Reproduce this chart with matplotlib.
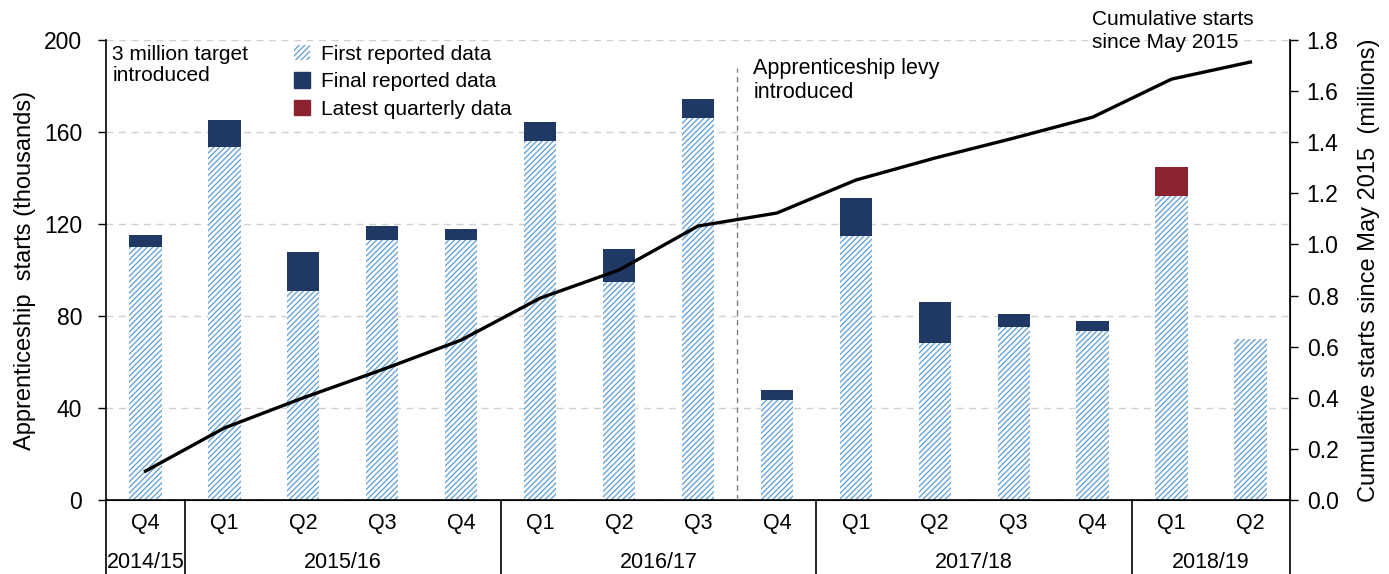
import numpy as np
import matplotlib
matplotlib.use("Agg")
import matplotlib.pyplot as plt
import matplotlib.patches as mpatches
import matplotlib.transforms as mtransforms

plt.rcParams['font.family'] = ['Liberation Sans', 'DejaVu Sans']
plt.rcParams['hatch.linewidth'] = 0.9

# data (thousands for bars, millions for the line)
quarters = ['Q4', 'Q1', 'Q2', 'Q3', 'Q4', 'Q1', 'Q2', 'Q3', 'Q4',
            'Q1', 'Q2', 'Q3', 'Q4', 'Q1', 'Q2']
years = ['2014/15', '2015/16', '2016/17', '2017/18', '2018/19']
year_sizes = [1, 4, 4, 4, 2]
first_reported = [110, 153.5, 91, 113, 113, 156, 95, 166, 43.5,
                  114.8, 68.3, 75.2, 73.5, 132.2, 70]
final_reported = [115.2, 165.2, 107.8, 119.1, 117.8, 164.3, 109.1, 174.3, 47.8,
                  131.3, 86, 80.9, 77.8, np.nan, np.nan]
latest_quarterly = [np.nan] * 13 + [144.8, np.nan]
cumulative = [0.113, 0.282, 0.40, 0.51, 0.626, 0.79, 0.90, 1.072, 1.123,
              1.252, 1.338, 1.416, 1.498, 1.647, 1.714]

hatch_col = '#5b9bd5'
navy = '#1f3864'
red = '#8b2331'

fig = plt.figure(figsize=(13.89, 5.74), dpi=100)
ax = fig.add_axes([0.0763, 0.1289, 0.8524, 0.8014])
ax2 = ax.twinx()

x = np.arange(len(quarters))
first = np.array(first_reported)
final = np.array(final_reported)
latest = np.array(latest_quarterly)
w = 0.41

ax.bar(x, first, w, facecolor='white', edgecolor=hatch_col, hatch='//////',
       linewidth=0, zorder=2)
ax.bar(x, final - first, w, bottom=first, color=navy, linewidth=0, zorder=2)
ax.bar(x, latest - first, w, bottom=first, color=red, linewidth=0, zorder=2)

ax.set_xlim(-0.5, len(quarters) - 0.5)
ax.set_ylim(0, 200)
ax.set_yticks(np.arange(0, 201, 40))
ax.yaxis.grid(True, linestyle=(0, (5, 4)), color='#d0d0d0', linewidth=1)
ax.set_axisbelow(True)
ax.set_ylabel('Apprenticeship  starts (thousands)', fontsize=17, labelpad=6)
ax.tick_params(axis='y', labelsize=16.5, direction='out', length=6, width=1,
               pad=11)

# category labels below axis
ax.set_xticks([])
trans = mtransforms.blended_transform_factory(ax.transData, ax.transAxes)
for i, q in enumerate(quarters):
    ax.text(i, -0.05, q, transform=trans, ha='center', va='center', fontsize=15.5)
edge = -0.5
for yr, n in zip(years, year_sizes):
    ax.text(edge + n / 2, -0.135, yr, transform=trans, ha='center', va='center',
            fontsize=15.5)
    edge += n
    ax.plot([edge, edge], [0, -0.2], transform=trans, color='black', lw=1.2,
            clip_on=False)
ax.plot([-0.5, -0.5], [0, -0.2], transform=trans, color='black', lw=1.2,
        clip_on=False)

for s in ['top']:
    ax.spines[s].set_visible(False)
    ax2.spines[s].set_visible(False)
ax.spines['left'].set_linewidth(1.2)
ax.spines['bottom'].set_linewidth(1.2)
ax2.spines['right'].set_linewidth(1.2)
ax2.spines['left'].set_visible(False)

# cumulative line
ax2.plot(x, cumulative, color='black', lw=2.4, zorder=5)
ax2.set_ylim(0, 1.8)
ax2.set_yticks(np.arange(0, 1.81, 0.2))
ax2.set_yticklabels([f'{v:.1f}' for v in np.arange(0, 1.81, 0.2)])
ax2.tick_params(axis='y', labelsize=16.5, direction='out', length=6, width=1,
                pad=6)
ax2.set_ylabel('Cumulative starts since May 2015  (millions)', fontsize=17,
               labelpad=14)

# levy line
ax.plot([7.5, 7.5], [0, 188], color='#808080', lw=1, linestyle=(0, (4, 3)),
        zorder=3)

# annotations
ax.text(-0.42, 198, '3 million target\nintroduced', fontsize=15, va='top',
        ha='left', linespacing=1.15)
ax.text(7.7, 192, 'Apprenticeship levy\nintroduced', fontsize=15.5, va='top',
        ha='left', linespacing=1.15)
fig.text(1092 / 1389, 1 - 10 / 574, 'Cumulative starts\nsince May 2015',
         fontsize=15, va='top', ha='left', linespacing=1.25)

handles = [mpatches.Patch(facecolor='white', edgecolor=hatch_col, hatch='//////',
                          linewidth=0),
           mpatches.Patch(color=navy),
           mpatches.Patch(color=red)]
labels = ['First reported data', 'Final reported data', 'Latest quarterly data']
ax.legend(handles, labels, loc='upper left', bbox_to_anchor=(0.143, 1.03),
          frameon=False, fontsize=15, handlelength=0.75, handleheight=0.75,
          handletextpad=0.55, labelspacing=0.4)

fig.savefig('out.png', dpi=100)
